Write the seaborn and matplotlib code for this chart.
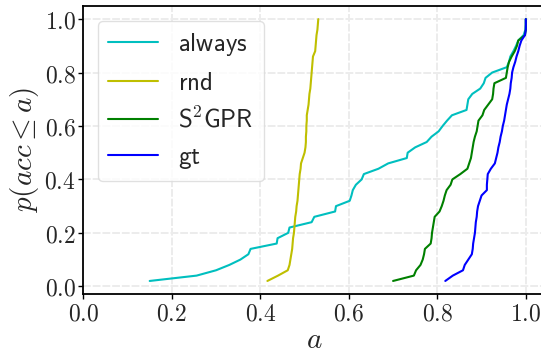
import numpy as np
import pandas as pd
import matplotlib
matplotlib.use("Agg")
import matplotlib.pyplot as plt
from matplotlib.ticker import FuncFormatter
import seaborn as sns

# cumulative probability levels (50 samples each)
p_levels = [round(0.02 * (i + 1), 2) for i in range(50)]

always = [0.150, 0.256, 0.300, 0.330, 0.355, 0.373, 0.378, 0.437, 0.439, 0.463,
          0.466, 0.516, 0.522, 0.569, 0.571, 0.602, 0.606, 0.609, 0.616, 0.629,
          0.634, 0.667, 0.689, 0.731, 0.733, 0.750, 0.776, 0.787, 0.803, 0.812,
          0.822, 0.833, 0.866, 0.868, 0.870, 0.879, 0.897, 0.905, 0.909, 0.924,
          0.957, 0.962, 0.965, 0.972, 0.978, 0.983, 0.995, 0.999, 1.000, 1.000]

rnd = [0.416, 0.440, 0.462, 0.466, 0.468, 0.470, 0.472, 0.473, 0.474, 0.476,
       0.477, 0.478, 0.479, 0.481, 0.482, 0.484, 0.485, 0.486, 0.487, 0.488,
       0.489, 0.491, 0.492, 0.496, 0.500, 0.502, 0.503, 0.503, 0.504, 0.504,
       0.505, 0.505, 0.507, 0.509, 0.510, 0.511, 0.513, 0.514, 0.515, 0.516,
       0.517, 0.518, 0.519, 0.524, 0.525, 0.526, 0.527, 0.529, 0.530, 0.531]

s2gpr = [0.700, 0.747, 0.752, 0.762, 0.767, 0.770, 0.772, 0.785, 0.787, 0.788,
         0.790, 0.792, 0.794, 0.805, 0.810, 0.814, 0.817, 0.821, 0.830, 0.834,
         0.852, 0.868, 0.872, 0.876, 0.878, 0.880, 0.882, 0.885, 0.889, 0.891,
         0.893, 0.902, 0.906, 0.915, 0.924, 0.926, 0.927, 0.929, 0.955, 0.957,
         0.959, 0.962, 0.968, 0.975, 0.980, 0.983, 0.998, 1.000, 1.000, 1.000]

gt = [0.818, 0.835, 0.858, 0.862, 0.870, 0.878, 0.880, 0.881, 0.883, 0.885,
      0.886, 0.887, 0.889, 0.890, 0.892, 0.896, 0.900, 0.912, 0.912, 0.913,
      0.914, 0.921, 0.930, 0.933, 0.936, 0.938, 0.941, 0.943, 0.946, 0.948,
      0.951, 0.953, 0.955, 0.957, 0.960, 0.963, 0.965, 0.966, 0.968, 0.969,
      0.972, 0.976, 0.979, 0.983, 0.986, 0.990, 0.998, 1.000, 1.000, 1.000]

labels = [r"$\mathsf{always}$", r"$\mathsf{rnd}$", r"$\mathsf{S}^{2}\mathsf{GPR}$", r"$\mathsf{gt}$"]
colors = ["c", "y", "g", "b"]
x_ticks = [0.0, 0.2, 0.4, 0.6, 0.8, 1.0]
y_ticks = [0.0, 0.2, 0.4, 0.6, 0.8, 1.0]

frames = []
for lab, vals in zip(labels, [always, rnd, s2gpr, gt]):
    frames.append(pd.DataFrame({"a": vals, "p": p_levels, "method": lab}))
df = pd.concat(frames, ignore_index=True)

sns.set_style("whitegrid", {"grid.color": "#ececec", "axes.edgecolor": "black"})
plt.rcParams["mathtext.fontset"] = "cm"
plt.rcParams["font.family"] = ["DejaVu Sans"]

fig = plt.figure(figsize=(5.41, 3.53), dpi=100)
ax = fig.add_axes([0.154, 0.167, 0.8527, 0.816])

sns.lineplot(data=df, x="a", y="p", hue="method", hue_order=labels,
             palette=dict(zip(labels, colors)), estimator=None, sort=False,
             linewidth=1.5, ax=ax)

ax.set_xlim(0.0, 1.0425)
ax.set_ylim(-0.029, 1.049)
ax.set_xticks(x_ticks)
ax.set_yticks(y_ticks)
ax.grid(True, color="#ececec", linestyle=(0, (4, 1)), linewidth=1.4)
fmt = FuncFormatter(lambda v, pos: rf"${v:.1f}$")
ax.xaxis.set_major_formatter(fmt)
ax.yaxis.set_major_formatter(fmt)
ax.tick_params(axis="both", which="major", labelsize=17, length=3.5, width=1,
               color="black", left=True, bottom=True, pad=2)
ax.set_xlabel(r"$a$", fontsize=21, labelpad=0)
ax.set_ylabel(r"$p(acc \leq a)$", fontsize=21, labelpad=2)
for s in ax.spines.values():
    s.set_color("black")
    s.set_linewidth(1.3)

leg = ax.legend(loc="upper left", fontsize=18, frameon=True, framealpha=0.8,
                edgecolor="#d9d9d9", borderaxespad=0.6, handlelength=2.0)
leg.set_title(None)

fig.savefig("out.png", dpi=100)
